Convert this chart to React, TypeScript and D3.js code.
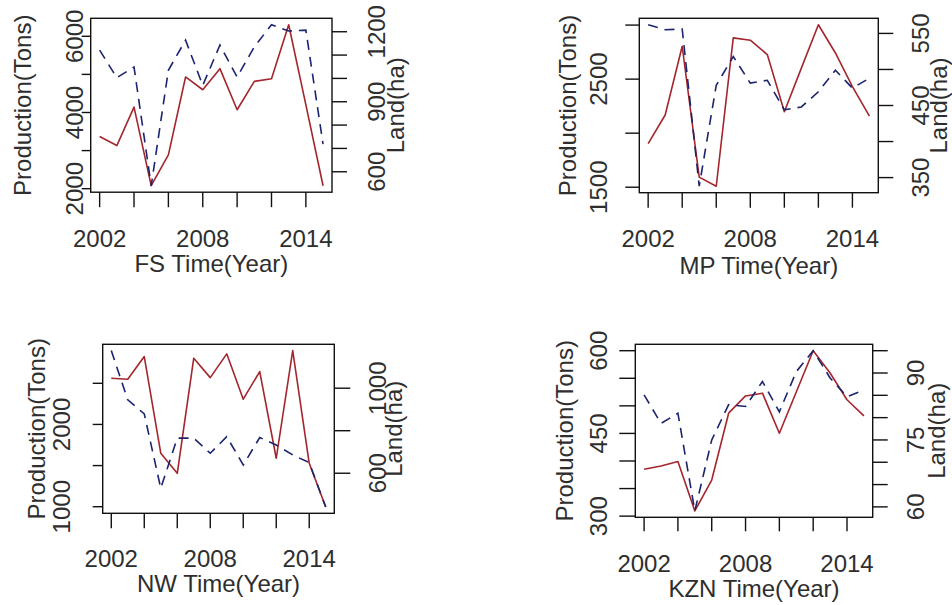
import React from 'react';
import * as d3 from 'd3';

// ---------- data ----------
const years = [2002, 2003, 2004, 2005, 2006, 2007, 2008, 2009, 2010, 2011, 2012, 2013, 2014, 2015];
const yearTicks = [2002, 2004, 2006, 2008, 2010, 2012, 2014];
const yearLabels = [2002, 2008, 2014];

const fsProduction = [3368, 3132, 4142, 2080, 2887, 4932, 4597, 5150, 4071, 4816, 4887, 6303, 4200, 2077];
const fsLand = [1121, 1003, 1049, 540, 1035, 1164, 970, 1143, 1006, 1135, 1230, 1203, 1207, 718];
const fsProdTicks = [2000, 3000, 4000, 5000, 6000];
const fsProdLabels = [2000, 4000, 6000];
const fsLandTicks = [600, 700, 800, 900, 1000, 1100, 1200];
const fsLandLabels = [600, 900, 1200];

const mpProduction = [1904, 2168, 2804, 1593, 1509, 2882, 2860, 2727, 2198, 2602, 3003, 2742, 2431, 2158];
const mpLand = [562, 555, 556, 338, 478, 518, 481, 485, 444, 448, 469, 499, 474, 488];
const mpProdTicks = [1500, 2000, 2500, 3000];
const mpProdLabels = [1500, 2500];
const mpLandTicks = [350, 400, 450, 500, 550];
const mpLandLabels = [350, 450, 550];

const nwProduction = [2562, 2550, 2825, 1650, 1406, 2805, 2569, 2858, 2307, 2643, 1589, 2898, 1528, 996];
const nwLand = [1177, 945, 879, 529, 765, 765, 694, 772, 639, 768, 733, 686, 650, 441];
const nwProdTicks = [1000, 1500, 2000, 2500];
const nwProdLabels = [1000, 2000];
const nwLandTicks = [600, 800, 1000];
const nwLandLabels = [600, 1000];

const kznProduction = [385, 391, 399, 309.5, 365.5, 486.7, 518, 523, 450.4, 525, 600, 559.5, 511, 481.8];
const kznLand = [85.1, 78.7, 81, 59.1, 75, 82.9, 82.5, 88.1, 81.3, 90.3, 95, 88.9, 84.7, 86.2];
const kznProdTicks = [300, 350, 400, 450, 500, 550, 600];
const kznProdLabels = [300, 450, 600];
const kznLandTicks = [60, 65, 70, 75, 80, 85, 90, 95];
const kznLandLabels = [60, 75, 90];

// ---------- layout ----------
type Box = { l: number; t: number; r: number; b: number };
interface PanelCfg {
  name: string;
  prod: number[];
  land: number[];
  prodTicks: number[];
  prodLabels: number[];
  landTicks: number[];
  landLabels: number[];
  box: Box;
  leftTick: number;
  leftLabelX: number;
  leftTitleX: number;
  bottomTick: number;
  xLabelY: number;
  xTitleY: number;
  rightTick: number;
  rightLabelX: number;
  rightTitleX: number;
}

const panels: PanelCfg[] = [
  {
    name: 'FS', prod: fsProduction, land: fsLand,
    prodTicks: fsProdTicks, prodLabels: fsProdLabels, landTicks: fsLandTicks, landLabels: fsLandLabels,
    box: { l: 90.7, t: 18.3, r: 332, b: 192.2 },
    leftTick: 9, leftLabelX: 74.5, leftTitleX: 22.5,
    bottomTick: 15, xLabelY: 238.5, xTitleY: 264,
    rightTick: 15, rightLabelX: 377, rightTitleX: 395.5,
  },
  {
    name: 'MP', prod: mpProduction, land: mpLand,
    prodTicks: mpProdTicks, prodLabels: mpProdLabels, landTicks: mpLandTicks, landLabels: mpLandLabels,
    box: { l: 639.3, t: 18.3, r: 878.3, b: 192.7 },
    leftTick: 14, leftLabelX: 598.7, leftTitleX: 567.5,
    bottomTick: 15, xLabelY: 238.3, xTitleY: 266,
    rightTick: 15, rightLabelX: 921, rightTitleX: 939,
  },
  {
    name: 'NW', prod: nwProduction, land: nwLand,
    prodTicks: nwProdTicks, prodLabels: nwProdLabels, landTicks: nwLandTicks, landLabels: nwLandLabels,
    box: { l: 102.7, t: 344.3, r: 334.3, b: 513.3 },
    leftTick: 10, leftLabelX: 61.7, leftTitleX: 37,
    bottomTick: 15, xLabelY: 558.3, xTitleY: 584,
    rightTick: 16, rightLabelX: 378, rightTitleX: 394,
  },
  {
    name: 'KZN', prod: kznProduction, land: kznLand,
    prodTicks: kznProdTicks, prodLabels: kznProdLabels, landTicks: kznLandTicks, landLabels: kznLandLabels,
    box: { l: 635.3, t: 344.3, r: 872.7, b: 517.3 },
    leftTick: 16, leftLabelX: 598.3, leftTitleX: 565,
    bottomTick: 14, xLabelY: 563.3, xTitleY: 589,
    rightTick: 15, rightLabelX: 916, rightTitleX: 937,
  },
];

const FONT = '"Liberation Sans", Arial, sans-serif';
const FS = 24;
const TXT = '#2e2e2e';
const SOLID = '#a3262e';
const DASHED = '#1c2470';

function rPad(vals: number[]): [number, number] {
  const [a, b] = d3.extent(vals) as [number, number];
  const p = (b - a) * 0.04;
  return [a - p, b + p];
}

function Panel({ c }: { c: PanelCfg }) {
  const { box } = c;
  const x = d3.scaleLinear().domain(rPad(years)).range([box.l, box.r]);
  const yL = d3.scaleLinear().domain(rPad(c.prod)).range([box.b, box.t]);
  const yR = d3.scaleLinear().domain(rPad(c.land)).range([box.b, box.t]);
  const lineL = d3.line<number>().x((_, i) => x(years[i])).y((d) => yL(d));
  const lineR = d3.line<number>().x((_, i) => x(years[i])).y((d) => yR(d));
  const rot = (cx: number, cy: number) => `translate(${cx},${cy}) rotate(-90)`;
  const midY = (box.t + box.b) / 2;
  const midX = (box.l + box.r) / 2;
  return (
    <g>
      <path d={lineL(c.prod) || ''} fill="none" stroke={SOLID} strokeWidth={1.6} strokeLinejoin="round" />
      <path d={lineR(c.land) || ''} fill="none" stroke={DASHED} strokeWidth={1.6} strokeDasharray="10,7" />
      <rect x={box.l} y={box.t} width={box.r - box.l} height={box.b - box.t} fill="none" stroke="#111" strokeWidth={1.4} />
      {/* left axis */}
      {c.prodTicks.map((v) => (
        <line key={'lt' + v} x1={box.l - c.leftTick} x2={box.l} y1={yL(v)} y2={yL(v)} stroke="#111" strokeWidth={1.4} />
      ))}
      {c.prodLabels.map((v) => (
        <text key={'ll' + v} transform={rot(c.leftLabelX, yL(v))} textAnchor="middle" dy="0.35em">{v}</text>
      ))}
      <text transform={rot(c.leftTitleX, midY)} textAnchor="middle" dy="0.35em">Production(Tons)</text>
      {/* bottom axis */}
      {yearTicks.map((v) => (
        <line key={'bt' + v} x1={x(v)} x2={x(v)} y1={box.b} y2={box.b + c.bottomTick} stroke="#111" strokeWidth={1.4} />
      ))}
      {yearLabels.map((v) => (
        <text key={'bl' + v} x={x(v)} y={c.xLabelY} textAnchor="middle" dy="0.35em">{v}</text>
      ))}
      <text x={midX} y={c.xTitleY} textAnchor="middle" dy="0.35em">{`${c.name} Time(Year)`}</text>
      {/* right axis */}
      {c.landTicks.map((v) => (
        <line key={'rt' + v} x1={box.r} x2={box.r + c.rightTick} y1={yR(v)} y2={yR(v)} stroke="#111" strokeWidth={1.4} />
      ))}
      {c.landLabels.map((v) => (
        <text key={'rl' + v} transform={rot(c.rightLabelX, yR(v))} textAnchor="middle" dy="0.35em">{v}</text>
      ))}
      <text transform={rot(c.rightTitleX, midY)} textAnchor="middle" dy="0.35em">Land(ha)</text>
    </g>
  );
}

export default function App() {
  return (
    <svg
      width={952}
      height={605}
      style={{ position: 'absolute', left: 0, top: 0, background: '#fff' }}
      fontFamily={FONT}
      fontSize={FS}
      fill={TXT}
    >
      <rect x={0} y={0} width={952} height={605} fill="#fff" />
      {panels.map((p) => (
        <Panel key={p.name} c={p} />
      ))}
    </svg>
  );
}
